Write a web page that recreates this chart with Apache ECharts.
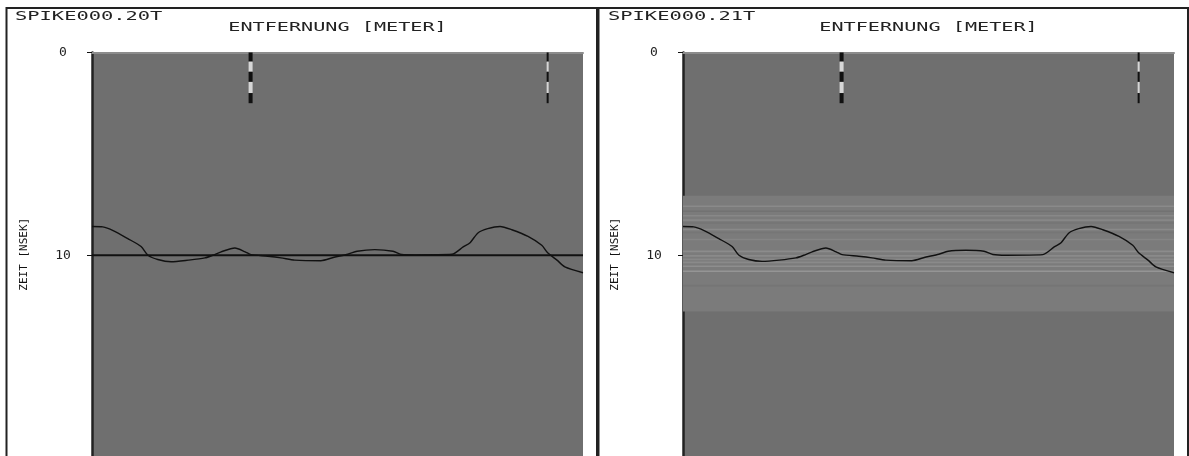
<!DOCTYPE html>
<html><head><meta charset="utf-8">
<script src="https://cdn.jsdelivr.net/npm/echarts@6/dist/echarts.min.js"></script>
<style>html,body{margin:0;padding:0;background:#fff}#c{width:1189px;height:456px}</style>
</head><body><div id="c"></div>
<script>
// ---- data ----
const panelTitles = ['SPIKE000.20T', 'SPIKE000.21T'];
const xAxisTitle = 'ENTFERNUNG [METER]';
const yAxisTitle = 'ZEIT [NSEK]';
const yTicks = [0, 10];
const distance = [0, 2.2, 4.3, 7.3, 10.0, 11.4, 13.4, 16.1, 19.6, 23.0, 24.6, 26.3, 29.1, 31.2, 32.4, 35.8, 38.5, 41.3, 46.6, 49.3, 52.1, 54.0, 57.6, 61.3, 63.1, 65.8, 73.3, 75.6, 77.0, 78.6, 80.6, 83.1, 85.5, 88.8, 91.6, 92.8, 94.7, 96.3, 100];
const timeLeft = [8.58, 8.60, 8.78, 9.18, 9.57, 10.0, 10.21, 10.32, 10.24, 10.13, 10.0, 9.83, 9.64, 9.83, 9.97, 10.05, 10.13, 10.24, 10.27, 10.10, 9.95, 9.80, 9.72, 9.80, 9.96, 9.98, 9.95, 9.59, 9.38, 8.90, 8.69, 8.58, 8.74, 9.07, 9.51, 9.88, 10.24, 10.57, 10.86];
const timeRight = [8.58, 8.60, 8.78, 9.18, 9.57, 10.0, 10.21, 10.30, 10.24, 10.13, 10.0, 9.83, 9.64, 9.83, 9.97, 10.05, 10.13, 10.24, 10.27, 10.10, 9.95, 9.80, 9.75, 9.80, 9.96, 10.0, 9.97, 9.59, 9.38, 8.90, 8.69, 8.58, 8.74, 9.07, 9.51, 9.88, 10.24, 10.57, 10.86];
const referenceTime = 10;
const markerDistance = [32.3, 92.8];
const markerSegments = [0, 0.45, 0.95, 1.45, 2.0, 2.5];
const bandRange = [7.06, 12.77];
const stripeTime = [7.54, 7.79, 8.01, 8.23, 8.37, 8.69, 8.84, 9.18, 9.77, 9.99, 10.16, 10.31, 10.50, 10.75, 11.46];
const stripeShade = ['#8a8a8a', '#727272', '#888888', '#878787', '#747474', '#8a8a8a', '#767676', '#858585', '#8c8c8c', '#8a8a8a', '#888888', '#8a8a8a', '#8e8e8e', '#959595', '#757575'];

// ---- layout ----
const grids = [
  { left: 92, top: 52.5, width: 491, height: 406.4 },
  { left: 683, top: 52.5, width: 491, height: 406.4 }
];
const FONT = 'DejaVu Sans Mono';

const chart = echarts.init(document.getElementById('c'), null, { renderer: 'canvas' });

const xAxes = grids.map((g, i) => ({
  type: 'value', gridIndex: i, min: 0, max: 100, position: 'top',
  axisLine: { show: true, lineStyle: { color: '#8c8c8c', width: 2 } },
  axisTick: { show: false }, axisLabel: { show: false }, splitLine: { show: false }
}));
const yAxes = grids.map((g, i) => ({
  type: 'value', gridIndex: i, min: 0, max: 19.9, interval: 10, inverse: true,
  name: yAxisTitle, nameLocation: 'middle', nameGap: 62, nameRotate: 90,
  nameTextStyle: { fontFamily: FONT, fontSize: 11, color: '#111' },
  axisLine: { show: true, onZero: false, lineStyle: { color: '#222', width: 2.5 } },
  axisTick: { show: true, length: 5, lineStyle: { color: '#111', width: 1 } },
  axisLabel: { show: true, margin: 29, align: 'center', fontFamily: FONT, fontSize: 13, color: '#222',
    formatter: v => yTicks.indexOf(v) >= 0 ? String(v) : '' },
  splitLine: { show: false }
}));

const series = [];
// right panel gray band with stripes
const stripeData = [[bandRange[0], bandRange[1], '#7b7b7b']];
stripeTime.forEach((t, i) => stripeData.push([t, t + 0.08, stripeShade[i]]));
series.push({
  type: 'custom', xAxisIndex: 1, yAxisIndex: 1, z: 1, silent: true,
  data: stripeData,
  renderItem: (params, api) => {
    const cs = params.coordSys;
    const y0 = api.coord([0, api.value(0)])[1];
    const y1 = api.coord([0, api.value(1)])[1];
    return { type: 'rect', shape: { x: cs.x, y: y0, width: cs.width, height: Math.max(1, y1 - y0) },
      style: { fill: stripeData[params.dataIndex][2] } };
  },
  encode: { y: [0, 1] }
});
// reference line at 10 (left only)
series.push({
  type: 'line', xAxisIndex: 0, yAxisIndex: 0, z: 2, symbol: 'none', silent: true,
  data: [[0, referenceTime], [100, referenceTime]],
  lineStyle: { color: '#111', width: 2 }
});
// curves
[timeLeft, timeRight].forEach((arr, i) => {
  series.push({
    type: 'line', xAxisIndex: i, yAxisIndex: i, z: 3, symbol: 'none', smooth: 0.25, silent: true,
    data: distance.map((d, k) => [d, arr[k]]),
    lineStyle: { color: '#111', width: 1.4 }
  });
});
// dashed markers
const markerData = [];
markerDistance.forEach((x, m) => {
  for (let j = 0; j < markerSegments.length - 1; j++) markerData.push([x, markerSegments[j], markerSegments[j + 1], j, m]);
});
[0, 1].forEach(i => {
  series.push({
    type: 'custom', xAxisIndex: i, yAxisIndex: i, z: 4, silent: true,
    data: markerData,
    renderItem: (params, api) => {
      const p0 = api.coord([api.value(0), api.value(1)]);
      const p1 = api.coord([api.value(0), api.value(2)]);
      const w = api.value(4) === 0 ? 4 : 2;
      return { type: 'rect', shape: { x: p0[0] - w / 2, y: p0[1], width: w, height: p1[1] - p0[1] },
        style: { fill: api.value(3) % 2 === 0 ? '#111' : '#d6d6d6' } };
    },
    encode: { x: 0, y: [1, 2] }
  });
});

const graphic = [
  { type: 'rect', shape: { x: 6.5, y: 8, width: 590.5, height: 470 }, style: { fill: null, stroke: '#222', lineWidth: 2 }, z: 0 },
  { type: 'rect', shape: { x: 598.5, y: 8, width: 589.5, height: 470 }, style: { fill: null, stroke: '#222', lineWidth: 2 }, z: 0 }
];
grids.forEach((g, i) => {
  graphic.push({ type: 'text', x: i === 0 ? 15 : 608, y: 11, scaleX: 1.7,
    style: { text: panelTitles[i], font: '12px "' + FONT + '"', fill: '#222', textVerticalAlign: 'top' } });
  graphic.push({ type: 'text', x: g.left + g.width / 2, y: 22, scaleX: 1.68,
    style: { text: xAxisTitle, font: '12px "' + FONT + '"', fill: '#222', textAlign: 'center', textVerticalAlign: 'top' } });
});

chart.setOption({
  animation: false,
  backgroundColor: '#ffffff',
  grid: grids.map(g => Object.assign({ show: true, backgroundColor: '#6f6f6f', borderWidth: 0, containLabel: false }, g)),
  xAxis: xAxes,
  yAxis: yAxes,
  series: series,
  graphic: graphic
});
</script></body></html>
